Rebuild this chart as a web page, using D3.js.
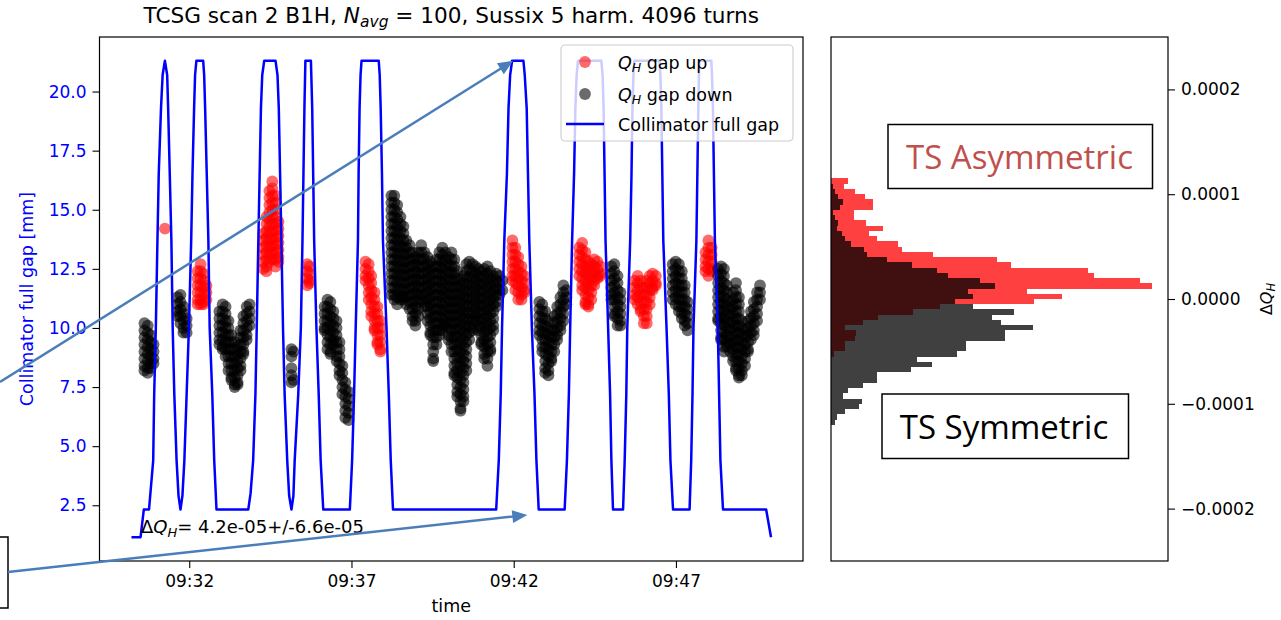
<!DOCTYPE html>
<html>
<head>
<meta charset="utf-8">
<script src="https://cdn.jsdelivr.net/npm/d3@7"></script>
<style>
  body { margin: 0; background: #fff; }
  svg { display: block; }
  text { font-family: "DejaVu Sans", sans-serif; }
</style>
</head>
<body>
<div id="chart"></div>
<script>
// times are minutes after 09:00
var gapTime = [30.22, 30.50, 30.60, 30.76, 30.89, 30.92, 30.97, 31.02, 31.06, 31.13, 31.18, 31.25, 31.32, 31.35, 31.40, 31.45, 31.49, 31.54, 31.61, 31.67, 31.73,
  31.79, 31.85, 31.92, 31.99, 32.06, 32.10, 32.15, 32.18, 32.22, 32.43, 32.46, 32.49, 32.54, 32.59, 32.63, 32.71, 32.77, 32.84,
  33.82, 33.89, 33.97, 34.04, 34.08, 34.13, 34.17, 34.21, 34.25, 34.31, 34.66, 34.72, 34.76, 34.80, 34.84, 34.89, 34.94, 35.02, 35.08, 35.15,
  35.21, 35.25, 35.36, 35.44, 35.49, 35.52, 35.55, 35.58, 35.75, 35.79, 35.82, 35.85, 35.92, 35.99, 36.05, 36.13,
  36.95, 37.02, 37.08, 37.13, 37.20, 37.22, 37.25, 37.28, 37.31, 37.84, 37.87, 37.90, 37.94, 37.97, 38.08, 38.15, 38.21, 38.28,
  41.46, 41.54, 41.60, 41.64, 41.71, 41.79, 41.84, 41.89, 41.95, 42.30, 42.34, 42.40, 42.44, 42.48, 42.56, 42.64, 42.70, 42.77,
  43.57, 43.64, 43.70, 43.74, 43.80, 43.86, 43.90, 43.94, 43.98, 44.70, 44.74, 44.77, 44.80, 44.83, 44.91, 44.97, 45.01, 45.06,
  45.37, 45.42, 45.47, 45.50, 45.59, 45.63, 45.66, 45.69, 45.72, 46.49, 46.52, 46.55, 46.58, 46.61, 46.71, 46.78, 46.83, 46.91,
  47.42, 47.47, 47.51, 47.54, 47.63, 47.66, 47.69, 47.71, 47.72, 48.09, 48.11, 48.14, 48.17, 48.20, 48.29, 48.33, 48.37, 48.45,
  49.78, 49.93];
var gapMm = [1.15, 1.15, 2.32, 2.32, 4.4, 7.2, 10.0, 13.7, 16.5, 19.3, 20.7, 21.3, 20.7, 19.3, 16.5, 13.7, 10.0, 7.2, 4.4, 2.9, 2.32,
  2.9, 4.4, 7.2, 10.0, 13.7, 16.5, 19.3, 20.7, 21.3, 21.3, 20.7, 19.3, 16.5, 13.7, 10.0, 7.2, 4.4, 2.32,
  2.32, 3.0, 4.4, 7.2, 10.0, 13.7, 16.5, 19.3, 20.7, 21.3, 21.3, 20.7, 19.3, 16.5, 13.7, 10.0, 7.2, 4.4, 2.9, 2.32,
  2.9, 4.4, 7.2, 10.0, 13.7, 16.5, 19.3, 21.3, 21.3, 19.3, 16.5, 13.7, 10.0, 7.2, 4.4, 2.32,
  2.32, 4.4, 7.2, 10.0, 13.7, 16.5, 19.3, 20.7, 21.3, 21.3, 20.7, 19.3, 16.5, 13.7, 10.0, 7.2, 4.4, 2.32,
  2.32, 4.4, 7.2, 10.0, 13.7, 16.5, 19.3, 20.7, 21.3, 21.3, 20.7, 19.3, 16.5, 13.7, 10.0, 7.2, 4.4, 2.32,
  2.32, 4.4, 7.2, 10.0, 13.7, 16.5, 19.3, 20.7, 21.3, 21.3, 20.7, 19.3, 16.5, 13.7, 10.0, 7.2, 4.4, 2.32,
  2.32, 4.4, 7.2, 10.0, 13.7, 16.5, 19.3, 20.7, 21.3, 21.3, 20.7, 19.3, 16.5, 13.7, 10.0, 7.2, 4.4, 2.32,
  2.32, 4.4, 7.2, 10.0, 13.7, 16.5, 19.3, 20.7, 21.3, 21.3, 20.7, 19.3, 16.5, 13.7, 10.0, 7.2, 4.4, 2.32,
  2.32, 1.15];

// Q_H gap up in mm-axis units: [time, [values at that time]]
var upCols = [
  [31.25, [14.2]],
  [32.26, [12.4, 12.1, 11.8, 11.5, 11.2, 11.0]],
  [32.35, [12.7, 12.4, 12.1, 11.8, 11.5, 11.2, 11.0]],
  [32.44, [12.3, 12.0, 11.7, 11.4, 11.1, 11.0]],
  [32.53, [11.8, 11.5, 11.2]],
  [34.29, [14.0, 13.7, 13.4, 13.1, 12.8, 12.5]],
  [34.38, [14.7, 14.4, 14.1, 13.8, 13.5, 13.2, 12.9, 12.6, 12.4]],
  [34.47, [15.8, 15.5, 15.2, 14.9, 14.6, 14.3, 14.0, 13.7, 13.4, 13.1, 12.8]],
  [34.56, [16.2, 15.9, 15.6, 15.3, 15.0, 14.7, 14.4, 14.1, 13.8, 13.5, 13.2, 12.9]],
  [34.66, [15.6, 15.3, 15.0, 14.7, 14.4, 14.1, 13.8, 13.5, 13.2, 12.9, 12.6]],
  [34.75, [14.5, 14.2, 13.9, 13.6, 13.3, 13.0, 12.8]],
  [35.64, [12.7, 12.4, 12.1, 11.8]],
  [35.70, [12.6, 12.3, 12.0, 11.9]],
  [37.43, [12.8, 12.5, 12.2, 12.0]],
  [37.53, [12.7, 12.4, 12.1, 11.8, 11.5, 11.2]],
  [37.61, [12.2, 11.9, 11.6, 11.3, 11.0, 10.7, 10.5]],
  [37.71, [11.5, 11.2, 10.9, 10.6, 10.3, 10.0, 9.9]],
  [37.80, [10.9, 10.6, 10.3, 10.0, 9.7, 9.4, 9.3]],
  [37.89, [10.3, 10.0, 9.7, 9.4, 9.1, 9.0]],
  [41.96, [13.7, 13.4, 13.1, 12.8, 12.5, 12.2, 12.0]],
  [42.05, [13.4, 13.1, 12.8, 12.5, 12.2, 11.9, 11.6]],
  [42.14, [13.0, 12.7, 12.4, 12.1, 11.8, 11.5, 11.2]],
  [42.24, [12.6, 12.3, 12.0, 11.7, 11.4, 11.2]],
  [42.33, [12.2, 11.9, 11.6, 11.5]],
  [44.02, [13.4, 13.1, 12.8, 12.5, 12.2]],
  [44.11, [13.6, 13.3, 13.0, 12.7, 12.4, 12.1, 11.8, 11.6]],
  [44.21, [13.2, 12.9, 12.6, 12.3, 12.0, 11.7, 11.4, 11.1, 11.0]],
  [44.30, [12.8, 12.5, 12.2, 11.9, 11.6, 11.3, 11.0, 10.9]],
  [44.39, [12.7, 12.4, 12.1, 11.8, 11.5, 11.2]],
  [44.48, [12.9, 12.6, 12.3, 12.0, 11.8]],
  [44.58, [12.8, 12.5, 12.2, 12.1]],
  [44.67, [12.6, 12.3, 12.2]],
  [45.73, [12.0, 11.7, 11.4, 11.2]],
  [45.82, [12.2, 11.9, 11.6, 11.3, 11.0]],
  [45.91, [12.0, 11.7, 11.4, 11.1, 10.8, 10.7]],
  [46.01, [11.7, 11.4, 11.1, 10.8, 10.5, 10.2]],
  [46.10, [12.0, 11.7, 11.4, 11.1, 10.8, 10.5, 10.2]],
  [46.19, [12.2, 11.9, 11.6, 11.3, 11.0]],
  [46.28, [12.3, 12.0, 11.7, 11.6]],
  [46.38, [12.2, 11.9, 11.8]],
  [47.91, [13.2, 12.9, 12.6, 12.4]],
  [48.00, [13.7, 13.4, 13.1, 12.8, 12.5, 12.2]],
  [48.10, [13.4, 13.1, 12.8, 12.5, 12.4]]
];

// Q_H gap down
var downCols = [
  [30.62, [10.2, 9.9, 9.6, 9.3, 9.0, 8.7, 8.4, 8.2]],
  [30.72, [10.1, 9.8, 9.5, 9.2, 8.9, 8.6, 8.3, 8.1]],
  [30.81, [9.7, 9.4, 9.1, 8.8, 8.5, 8.3]],
  [30.90, [9.3, 9.0, 8.7, 8.5]],
  [31.64, [11.3, 11.0, 10.7, 10.5]],
  [31.73, [11.4, 11.1, 10.8, 10.5, 10.2]],
  [31.82, [10.9, 10.6, 10.3, 10.0, 9.8]],
  [31.92, [10.4, 10.1, 9.8]],
  [32.93, [10.7, 10.4, 10.1, 9.8, 9.5, 9.3]],
  [33.03, [11.0, 10.7, 10.4, 10.1, 9.8, 9.5, 9.2, 9.1]],
  [33.12, [10.9, 10.6, 10.3, 10.0, 9.7, 9.4, 9.1, 8.8]],
  [33.21, [10.3, 10.0, 9.7, 9.4, 9.1, 8.8, 8.5, 8.2]],
  [33.30, [9.7, 9.4, 9.1, 8.8, 8.5, 8.2, 7.9, 7.8]],
  [33.40, [9.4, 9.1, 8.8, 8.5, 8.2, 7.9, 7.6, 7.5]],
  [33.49, [9.2, 8.9, 8.6, 8.3, 8.0, 7.7, 7.6]],
  [33.58, [9.9, 9.6, 9.3, 9.0, 8.7, 8.4, 8.2]],
  [33.67, [10.5, 10.2, 9.9, 9.6, 9.3, 9.0, 8.9]],
  [33.77, [10.9, 10.6, 10.3, 10.0, 9.7, 9.5]],
  [33.86, [11.0, 10.7, 10.4, 10.1]],
  [35.15, [9.1, 8.8, 8.3, 8.0, 7.7]],
  [35.21, [9.0, 7.8]],
  [36.17, [10.9, 10.6, 10.3, 10.0, 9.9]],
  [36.26, [11.2, 10.9, 10.6, 10.3, 10.0, 9.7, 9.4, 9.1]],
  [36.35, [11.1, 10.8, 10.5, 10.2, 9.9, 9.6, 9.3, 9.0, 8.9]],
  [36.44, [10.7, 10.4, 10.1, 9.8, 9.5, 9.3]],
  [36.54, [10.3, 10.0, 9.7, 9.4, 9.1, 8.8, 8.6]],
  [36.63, [9.4, 9.1, 8.8, 8.5, 8.2, 8.0]],
  [36.72, [8.4, 8.1, 7.8, 7.5, 7.2]],
  [36.81, [7.7, 7.4, 7.1, 6.8, 6.5, 6.2]],
  [36.91, [7.3, 7.0, 6.7, 6.4, 6.1]],
  [38.23, [15.6, 15.3, 15.0, 14.7, 14.4, 14.1, 13.8, 13.5, 13.2, 12.9, 12.6, 12.3, 12.0, 11.7, 11.4]],
  [38.32, [15.6, 15.3, 15.0, 14.7, 14.4, 14.1, 13.8, 13.5, 13.2, 12.9, 12.6, 12.3, 12.0, 11.7, 11.4, 11.2]],
  [38.41, [15.2, 14.9, 14.6, 14.3, 14.0, 13.7, 13.4, 13.1, 12.8, 12.5, 12.2, 11.9, 11.6, 11.3, 11.0]],
  [38.51, [14.7, 14.4, 14.1, 13.8, 13.5, 13.2, 12.9, 12.6, 12.3, 12.0, 11.7, 11.4, 11.2]],
  [38.60, [14.3, 14.0, 13.7, 13.4, 13.1, 12.8, 12.5, 12.2, 11.9, 11.6, 11.3, 11.2]],
  [38.69, [13.7, 13.4, 13.1, 12.8, 12.5, 12.2, 11.9, 11.6, 11.3, 11.0]],
  [38.79, [13.5, 13.2, 12.9, 12.6, 12.3, 12.0, 11.7, 11.4, 11.1, 10.8]],
  [38.88, [13.2, 12.9, 12.6, 12.3, 12.0, 11.7, 11.4, 11.1, 10.8, 10.5, 10.3]],
  [38.97, [13.0, 12.7, 12.4, 12.1, 11.8, 11.5, 11.2, 10.9, 10.6, 10.3, 10.1]],
  [39.06, [13.2, 12.9, 12.6, 12.3, 12.0, 11.7, 11.4, 11.1, 10.8, 10.5]],
  [39.15, [13.5, 13.2, 12.9, 12.6, 12.3, 12.0, 11.7, 11.4, 11.2]],
  [39.25, [13.2, 12.9, 12.6, 12.3, 12.0, 11.7, 11.4, 11.1, 10.9]],
  [39.34, [13.0, 12.7, 12.4, 12.1, 11.8, 11.5, 11.2, 10.9, 10.6, 10.3]],
  [39.43, [12.8, 12.5, 12.2, 11.9, 11.6, 11.3, 11.0, 10.7, 10.4, 10.1, 9.8, 9.7]],
  [39.52, [12.6, 12.3, 12.0, 11.7, 11.4, 11.1, 10.8, 10.5, 10.2, 9.9, 9.6, 9.3, 9.0, 8.7, 8.6]],
  [39.62, [12.9, 12.6, 12.3, 12.0, 11.7, 11.4, 11.1, 10.8, 10.5, 10.2, 9.9, 9.6, 9.3]],
  [39.71, [13.2, 12.9, 12.6, 12.3, 12.0, 11.7, 11.4, 11.1, 10.8, 10.5, 10.2, 9.9, 9.7]],
  [39.80, [13.4, 13.1, 12.8, 12.5, 12.2, 11.9, 11.6, 11.3, 11.0, 10.7, 10.4, 10.1, 9.9]],
  [39.89, [13.2, 12.9, 12.6, 12.3, 12.0, 11.7, 11.4, 11.1, 10.8, 10.5, 10.2, 10.1]],
  [39.99, [13.0, 12.7, 12.4, 12.1, 11.8, 11.5, 11.2, 10.9, 10.6, 10.3, 10.0, 9.7, 9.5]],
  [40.08, [13.2, 12.9, 12.6, 12.3, 12.0, 11.7, 11.4, 11.1, 10.8, 10.5, 10.2, 9.9, 9.6, 9.3, 9.0]],
  [40.17, [12.9, 12.6, 12.3, 12.0, 11.7, 11.4, 11.1, 10.8, 10.5, 10.2, 9.9, 9.6, 9.3, 9.0, 8.7, 8.4, 8.1, 8.0]],
  [40.26, [12.4, 12.1, 11.8, 11.5, 11.2, 10.9, 10.6, 10.3, 10.0, 9.7, 9.4, 9.1, 8.8, 8.5, 8.2, 7.9, 7.6, 7.3, 7.1]],
  [40.36, [12.0, 11.7, 11.4, 11.1, 10.8, 10.5, 10.2, 9.9, 9.6, 9.3, 9.0, 8.7, 8.4, 8.1, 7.8, 7.5, 7.2, 6.9, 6.6, 6.5]],
  [40.45, [12.2, 11.9, 11.6, 11.3, 11.0, 10.7, 10.4, 10.1, 9.8, 9.5, 9.2, 8.9, 8.6, 8.3, 8.0, 7.7, 7.4, 7.1, 6.9]],
  [40.54, [12.7, 12.4, 12.1, 11.8, 11.5, 11.2, 10.9, 10.6, 10.3, 10.0, 9.7, 9.4, 9.1, 8.8, 8.5, 8.2]],
  [40.63, [12.8, 12.5, 12.2, 11.9, 11.6, 11.3, 11.0, 10.7, 10.4, 10.1, 9.8, 9.5]],
  [40.73, [12.7, 12.4, 12.1, 11.8, 11.5, 11.2, 10.9, 10.6, 10.3, 10.0, 9.9]],
  [40.82, [12.6, 12.3, 12.0, 11.7, 11.4, 11.1, 10.8, 10.5, 10.3]],
  [40.91, [12.5, 12.2, 11.9, 11.6, 11.3, 11.0, 10.7, 10.4, 10.1, 9.9]],
  [41.00, [12.4, 12.1, 11.8, 11.5, 11.2, 10.9, 10.6, 10.3, 10.0, 9.7, 9.4, 9.3]],
  [41.09, [12.5, 12.2, 11.9, 11.6, 11.3, 11.0, 10.7, 10.4, 10.1, 9.8, 9.5, 9.2, 8.9, 8.7]],
  [41.19, [12.6, 12.3, 12.0, 11.7, 11.4, 11.1, 10.8, 10.5, 10.2, 9.9, 9.6, 9.3, 9.0, 8.7, 8.4]],
  [41.28, [12.4, 12.1, 11.8, 11.5, 11.2, 10.9, 10.6, 10.3, 10.0, 9.7, 9.4, 9.1, 9.0]],
  [41.37, [12.2, 11.9, 11.6, 11.3, 11.0, 10.7, 10.4, 10.1, 9.9]],
  [41.46, [12.3, 12.0, 11.7, 11.4, 11.1, 10.9]],
  [41.56, [12.2, 11.9, 11.6, 11.4]],
  [41.65, [12.0, 11.6]],
  [42.79, [11.1, 10.8, 10.5, 10.2, 9.9, 9.7]],
  [42.88, [11.0, 10.7, 10.4, 10.1, 9.8, 9.5, 9.2, 9.0]],
  [42.97, [10.7, 10.4, 10.1, 9.8, 9.5, 9.2, 8.9, 8.6, 8.3, 8.1]],
  [43.07, [10.3, 10.0, 9.7, 9.4, 9.1, 8.8, 8.5, 8.2, 8.0]],
  [43.16, [9.9, 9.6, 9.3, 9.0, 8.7, 8.6]],
  [43.25, [10.5, 10.2, 9.9, 9.6, 9.3, 9.0]],
  [43.34, [10.9, 10.6, 10.3, 10.0, 9.7, 9.5]],
  [43.44, [11.3, 11.0, 10.7, 10.4, 10.1, 9.9]],
  [43.53, [11.8, 11.5, 11.2, 10.9, 10.6, 10.3]],
  [43.62, [11.6, 11.3, 11.0]],
  [45.01, [12.6, 12.3, 12.0, 11.7, 11.4, 11.2]],
  [45.10, [12.7, 12.4, 12.1, 11.8, 11.5, 11.2, 10.9, 10.6, 10.5]],
  [45.20, [12.2, 11.9, 11.6, 11.3, 11.0, 10.7, 10.4, 10.1]],
  [45.29, [11.5, 11.2, 10.9, 10.6, 10.3, 10.1]],
  [46.90, [12.7, 12.4, 12.1, 11.8, 11.5, 11.2]],
  [46.99, [12.8, 12.5, 12.2, 11.9, 11.6, 11.3, 11.0]],
  [47.09, [12.7, 12.4, 12.1, 11.8, 11.5, 11.2, 10.9, 10.7]],
  [47.18, [12.4, 12.1, 11.8, 11.5, 11.2, 10.9, 10.6, 10.4]],
  [47.27, [11.8, 11.5, 11.2, 10.9, 10.6, 10.3, 10.1]],
  [47.36, [11.1, 10.8, 10.5, 10.2, 9.9]],
  [48.30, [12.5, 12.2, 11.9, 11.6, 11.3, 11.0, 10.7, 10.4, 10.3]],
  [48.39, [12.6, 12.3, 12.0, 11.7, 11.4, 11.1, 10.8, 10.5, 10.2, 9.9, 9.6, 9.5]],
  [48.48, [12.5, 12.2, 11.9, 11.6, 11.3, 11.0, 10.7, 10.4, 10.1, 9.8, 9.5, 9.2, 9.0]],
  [48.57, [11.8, 11.5, 11.2, 10.9, 10.6, 10.3, 10.0, 9.7, 9.4, 9.2]],
  [48.67, [11.1, 10.8, 10.5, 10.2, 9.9, 9.6, 9.3, 9.0]],
  [48.76, [11.5, 11.2, 10.9, 10.6, 10.3, 10.0, 9.7, 9.4, 9.1, 8.8, 8.6]],
  [48.85, [11.9, 11.6, 11.3, 11.0, 10.7, 10.4, 10.1, 9.8, 9.5, 9.2, 8.9, 8.6, 8.3, 8.2]],
  [48.94, [11.3, 11.0, 10.7, 10.4, 10.1, 9.8, 9.5, 9.2, 8.9, 8.6, 8.3, 8.0, 7.9]],
  [49.03, [10.3, 10.0, 9.7, 9.4, 9.1, 8.8, 8.5, 8.2, 8.0]],
  [49.13, [9.9, 9.6, 9.3, 9.0, 8.7, 8.4]],
  [49.22, [10.3, 10.0, 9.7, 9.4, 9.1, 9.0]],
  [49.31, [10.7, 10.4, 10.1, 9.8, 9.5]],
  [49.40, [11.1, 10.8, 10.5, 10.2, 9.9, 9.7]],
  [49.50, [11.5, 11.2, 10.9, 10.6, 10.3]],
  [49.59, [11.8, 11.5, 11.2]]
];

// delta Q_H histograms, bin edges low -> high
var binEdges = [-120e-6, -115e-6, -110e-6, -105e-6, -100e-6, -95e-6, -90e-6, -85e-6, -80e-6, -75e-6, -70e-6, -65e-6,
  -60e-6, -55e-6, -50e-6, -45e-6, -40e-6, -35e-6, -30e-6, -25e-6, -20e-6, -15e-6, -10e-6, -5e-6, 0,
  5e-6, 10e-6, 15e-6, 20e-6, 25e-6, 30e-6, 35e-6, 40e-6, 45e-6, 50e-6, 55e-6, 60e-6, 65e-6, 70e-6,
  75e-6, 80e-6, 85e-6, 90e-6, 95e-6, 100e-6, 105e-6, 110e-6, 115e-6];
var countUp = [0, 0, 0, 0, 0, 0, 0, 0, 0, 0, 0, 0, 0, 3, 14, 14, 24, 25, 14, 32, 47, 82, 109, 202, 230, 195,
  320, 308, 262, 256, 179, 166, 102, 71, 67, 46, 38, 52, 35, 23, 23, 42, 42, 34, 24, 13, 17];
var countDown = [4, 6, 14, 28, 31, 12, 17, 32, 46, 46, 80, 101, 86, 126, 135, 135, 173, 173, 201, 169, 161, 182,
  142, 124, 142, 137, 164, 149, 117, 106, 81, 56, 36, 33, 20, 14, 11, 6, 7, 4, 2, 9, 12, 7, 4, 2, 0];

var timeTicks = [32, 37, 42, 47];
var gapTicks = [2.5, 5.0, 7.5, 10.0, 12.5, 15.0, 17.5, 20.0];
var qTicks = [0.0002, 0.0001, 0, -0.0001, -0.0002];

var day0 = new Date(2018, 9, 24, 9, 0, 0);
function toDate(m) { return new Date(day0.getTime() + m * 60000); }

var W = 1281, H = 620;
var plot = {left: 99.5, right: 803, top: 37, bottom: 561};
var hbox = {left: 831, right: 1168, top: 37, bottom: 561};

var svg = d3.select("#chart").append("svg")
    .attr("width", W)
    .attr("height", H);

// scales, matplotlib style 5% margins
var tExt = d3.extent(gapTime), tPad = 0.05 * (tExt[1] - tExt[0]);
var x = d3.scaleTime()
  .domain([toDate(tExt[0] - tPad), toDate(tExt[1] + tPad)])
  .range([plot.left, plot.right]);
var gExt = d3.extent(gapMm), gPad = 0.05 * (gExt[1] - gExt[0]);
var y = d3.scaleLinear()
  .domain([gExt[0] - gPad, gExt[1] + gPad])
  .range([plot.bottom, plot.top]);

function flat(cols) {
  return cols.flatMap(c => c[1].map(v => [c[0], v]));
}

// scatter
svg.append("g").selectAll("circle")
  .data(flat(upCols))
  .join("circle")
    .attr("cx", d => x(toDate(d[0])))
    .attr("cy", d => y(d[1]))
    .attr("r", 5.9)
    .attr("fill", "red")
    .attr("fill-opacity", 0.58);

svg.append("g").selectAll("circle")
  .data(flat(downCols))
  .join("circle")
    .attr("cx", d => x(toDate(d[0])))
    .attr("cy", d => y(d[1]))
    .attr("r", 5.9)
    .attr("fill", "black")
    .attr("fill-opacity", 0.58);

// collimator gap
var gapLine = d3.line()
  .x(d => x(toDate(d[0])))
  .y(d => y(d[1]));
svg.append("path")
  .attr("d", gapLine(d3.zip(gapTime, gapMm)))
  .attr("fill", "none")
  .attr("stroke", "#0000ff")
  .attr("stroke-width", 2.5)
  .attr("stroke-linejoin", "round");

// axes
var xAxis = svg.append("g")
  .attr("transform", "translate(0," + plot.bottom + ")")
  .call(d3.axisBottom(x).tickValues(timeTicks.map(toDate))
    .tickFormat(d3.timeFormat("%H:%M")).tickSize(7).tickPadding(7).tickSizeOuter(0));
var yAxis = svg.append("g")
  .attr("transform", "translate(" + plot.left + ",0)")
  .call(d3.axisLeft(y).tickValues(gapTicks).tickFormat(d3.format(".1f"))
    .tickSize(7).tickPadding(6).tickSizeOuter(0));
yAxis.selectAll("text").attr("fill", "#0000ff");
[xAxis, yAxis].forEach(function (a) {
  a.select(".domain").remove();
  a.selectAll("text").style("font-family", "DejaVu Sans").style("font-size", "17px");
  a.selectAll("line").attr("stroke", "#000").attr("stroke-width", 1.1);
});
xAxis.selectAll("text").attr("fill", "#000");

svg.append("rect")
  .attr("x", plot.left).attr("y", plot.top)
  .attr("width", plot.right - plot.left).attr("height", plot.bottom - plot.top)
  .attr("fill", "none").attr("stroke", "#000").attr("stroke-width", 1.2);

// title and labels
var title = svg.append("text")
  .attr("x", (plot.left + plot.right) / 2).attr("y", 23)
  .attr("text-anchor", "middle").style("font-size", "21.6px");
title.append("tspan").text("TCSG scan 2 B1H, ");
title.append("tspan").attr("font-style", "italic").text("N");
title.append("tspan").attr("font-style", "italic").attr("font-size", "15.5px").attr("dy", 4).text("avg");
title.append("tspan").attr("dy", -4).text(" = 100, Sussix 5 harm. 4096 turns");

svg.append("text")
  .attr("x", (plot.left + plot.right) / 2).attr("y", 612)
  .attr("text-anchor", "middle").style("font-size", "17.5px")
  .text("time");

svg.append("text")
  .attr("transform", "translate(33," + (plot.top + plot.bottom) / 2 + ") rotate(-90)")
  .attr("text-anchor", "middle").style("font-size", "17.5px")
  .attr("fill", "#0000ff")
  .text("Collimator full gap [mm]");

var note = svg.append("text")
  .attr("x", 141).attr("y", 533).style("font-size", "18px");
note.append("tspan").text("\u0394");
note.append("tspan").attr("font-style", "italic").text("Q");
note.append("tspan").attr("font-style", "italic").attr("font-size", "13px").attr("dy", 3.5).text("H");
note.append("tspan").attr("dy", -3.5).text("= 4.2e-05+/-6.6e-05");

// legend
var leg = svg.append("g");
leg.append("rect")
  .attr("x", 561).attr("y", 45).attr("width", 232).attr("height", 96).attr("rx", 4)
  .attr("fill", "#fff").attr("fill-opacity", 0.8)
  .attr("stroke", "#cccccc").attr("stroke-width", 1.1);
var legItems = [
  {label: " gap up", kind: "dot", color: "red", cy: 62},
  {label: " gap down", kind: "dot", color: "black", cy: 94},
  {label: "Collimator full gap", kind: "line", color: "#0000ff", cy: 124}
];
legItems.forEach(function (it) {
  if (it.kind === "dot") {
    leg.append("circle").attr("cx", 585).attr("cy", it.cy).attr("r", 5.9)
      .attr("fill", it.color).attr("fill-opacity", 0.58);
  } else {
    leg.append("line").attr("x1", 566).attr("x2", 604).attr("y1", it.cy).attr("y2", it.cy)
      .attr("stroke", it.color).attr("stroke-width", 2.5);
  }
  var t = leg.append("text").attr("x", 618).attr("y", it.cy + 6.5).style("font-size", "17.5px");
  if (it.kind === "dot") {
    t.append("tspan").attr("font-style", "italic").text("Q");
    t.append("tspan").attr("font-style", "italic").attr("font-size", "12.5px").attr("dy", 3.5).text("H");
    t.append("tspan").attr("dy", -3.5).text(it.label);
  } else {
    t.text(it.label);
  }
});

// histogram panel
var yq = d3.scaleLinear().domain([-0.00025, 0.00025]).range([hbox.bottom, hbox.top]);
var xh = d3.scaleLinear().domain([0, d3.max(countUp.concat(countDown)) * 1.05]).range([hbox.left, hbox.right]);

function drawHist(counts, color) {
  svg.append("g").selectAll("rect")
    .data(d3.range(counts.length).filter(i => counts[i] > 0))
    .join("rect")
      .attr("x", xh(0))
      .attr("y", i => yq(binEdges[i + 1]))
      .attr("width", i => xh(counts[i]) - xh(0))
      .attr("height", i => yq(binEdges[i]) - yq(binEdges[i + 1]))
      .attr("fill", color)
      .attr("fill-opacity", 0.75)
      .attr("shape-rendering", "crispEdges");
}
drawHist(countUp, "red");
drawHist(countDown, "black");

var qAxis = svg.append("g")
  .attr("transform", "translate(" + hbox.right + ",0)")
  .call(d3.axisRight(yq).tickValues(qTicks).tickFormat(d3.format(".4f"))
    .tickSize(7).tickPadding(6).tickSizeOuter(0));
qAxis.select(".domain").remove();
qAxis.selectAll("text").attr("fill", "#000").style("font-family", "DejaVu Sans").style("font-size", "17px");
qAxis.selectAll("line").attr("stroke", "#000").attr("stroke-width", 1.1);

svg.append("rect")
  .attr("x", hbox.left).attr("y", hbox.top)
  .attr("width", hbox.right - hbox.left).attr("height", hbox.bottom - hbox.top)
  .attr("fill", "none").attr("stroke", "#000").attr("stroke-width", 1.2);

var qLab = svg.append("text")
  .attr("transform", "translate(1272," + yq(0) + ") rotate(-90)")
  .attr("text-anchor", "middle").style("font-size", "16px");
qLab.append("tspan").text("\u0394");
qLab.append("tspan").attr("font-style", "italic").text("Q");
qLab.append("tspan").attr("font-style", "italic").attr("font-size", "11.5px").attr("dy", 3).text("H");

// slide overlays: text boxes and arrows
function textBox(x0, y0, x1, y1, label, color, cx, base) {
  svg.append("rect")
    .attr("x", x0).attr("y", y0).attr("width", x1 - x0).attr("height", y1 - y0)
    .attr("fill", "#fff").attr("stroke", "#000").attr("stroke-width", 1.5);
  svg.append("text")
    .attr("x", cx).attr("y", base).attr("text-anchor", "middle")
    .style("font-family", "'Open Sans', sans-serif").style("font-size", "33px")
    .attr("fill", color).text(label);
}
textBox(888, 124.5, 1152.5, 188.5, "TS Asymmetric", "#c0504d", 1019.5, 168.5);
textBox(882, 394, 1128.5, 458.5, "TS Symmetric", "#000", 1004, 438.5);
svg.append("rect")
  .attr("x", -10).attr("y", 537).attr("width", 18).attr("height", 71)
  .attr("fill", "none").attr("stroke", "#000").attr("stroke-width", 1.5);

function arrow(x0, y0, x1, y1) {
  var a = Math.atan2(y1 - y0, x1 - x0), len = 15, half = 6.5;
  var bx = x1 - len * Math.cos(a), by = y1 - len * Math.sin(a);
  svg.append("line")
    .attr("x1", x0).attr("y1", y0).attr("x2", bx + 2 * Math.cos(a)).attr("y2", by + 2 * Math.sin(a))
    .attr("stroke", "#4a7ebb").attr("stroke-width", 2.5);
  svg.append("path")
    .attr("d", "M" + x1 + "," + y1 +
      "L" + (bx + half * Math.sin(a)) + "," + (by - half * Math.cos(a)) +
      "L" + (bx - half * Math.sin(a)) + "," + (by + half * Math.cos(a)) + "Z")
    .attr("fill", "#4a7ebb");
}
// arrows point at the gap-open top (09:41.98) and the closed plateau (09:42.42)
arrow(0, 382, x(toDate(41.98)), y(21.3));
arrow(8, 572, x(toDate(42.42)), y(2.09));
</script>
</body>
</html>
